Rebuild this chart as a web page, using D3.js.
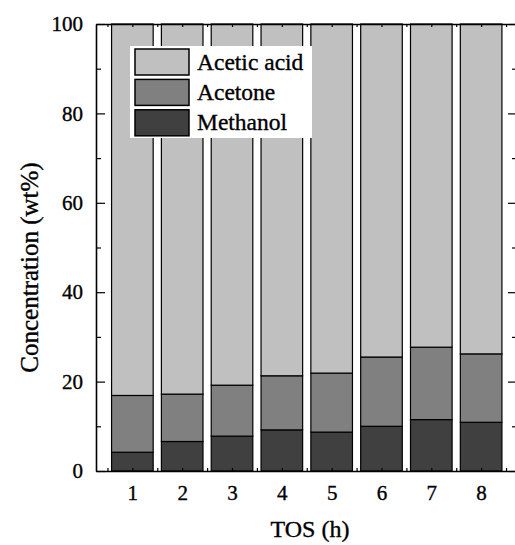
<!DOCTYPE html>
<html>
<head>
<meta charset="utf-8">
<script src="https://cdn.jsdelivr.net/npm/d3@7"></script>
<style>
  body { margin: 0; background: #fff; }
  svg text { font-family: "Liberation Serif", Tinos, "Times New Roman", Times, serif !important; fill: #000; stroke: #000; stroke-width: 0.35px; }
</style>
</head>
<body>
<div id="chart"></div>
<script>
// TOS (h)
var tos = [1, 2, 3, 4, 5, 6, 7, 8]
// wt%
var methanol = [4.2, 6.6, 7.8, 9.2, 8.7, 10.0, 11.5, 10.9]
var acetone = [12.7, 10.6, 11.4, 12.1, 13.2, 15.5, 16.2, 15.3]
var acetic = methanol.map(function (d, i) { return 100 - d - acetone[i] })
var seriesNames = ["Methanol", "Acetone", "Acetic acid"]
var seriesColors = ["#404040", "#808080", "#c0c0c0"]
var yTicks = [0, 20, 40, 60, 80, 100]

var serif = "'Liberation Serif', Tinos, 'Times New Roman', Times, serif"
var W = 515, H = 545
var margin = {top: 24, right: -1, bottom: 74, left: 96},
    width = W - margin.left - margin.right,
    height = H - margin.top - margin.bottom;

var rows = tos.map(function (t, i) {
    return {tos: t, "Methanol": methanol[i], "Acetone": acetone[i], "Acetic acid": acetic[i]}
})

var x = d3.scaleLinear().domain([0.27, 8.7]).range([0, width]);
var y = d3.scaleLinear().domain([0, 100]).range([height, 0]);
var color = d3.scaleOrdinal(seriesColors).domain(seriesNames);
var barW = 0.835 // in x units

var svg = d3.select("#chart").append("svg")
    .attr("width", W)
    .attr("height", H)
    .attr("font-family", serif)
    .append("g")
    .attr("transform", "translate(" + margin.left + "," + margin.top + ")");

var stacked = d3.stack().keys(seriesNames)(rows);

var layer = svg.selectAll(".layer")
    .data(stacked)
    .enter().append("g")
    .attr("class", "layer")
    .style("fill", function (d) { return color(d.key); });

layer.selectAll("rect")
    .data(function (d) { return d })
    .enter().append("rect")
    .attr("x", function (d) { return x(d.data.tos - barW / 2) })
    .attr("width", function (d) { return x(barW) - x(0) })
    .attr("y", function (d) { return y(d[1]) })
    .attr("height", function (d) { return y(d[0]) - y(d[1]) })
    .attr("stroke", "#000")
    .attr("stroke-width", 1.2);

// axes, ticks pointing inward
var halfTicks = d3.range(0.5, 8.75, 0.5)
var minorY = d3.range(10, 100, 20)

function styleAxis(g) {
    g.attr("font-family", serif);
    g.select(".domain").attr("stroke-width", 1.6);
    g.selectAll(".tick line").attr("stroke-width", 1.2);
}

svg.append("g")
    .attr("transform", "translate(0," + height + ")")
    .call(d3.axisBottom(x).tickValues(halfTicks).tickSizeInner(-3).tickSizeOuter(0).tickFormat(""))
    .call(styleAxis);

svg.append("g")
    .attr("transform", "translate(0," + height + ")")
    .call(d3.axisBottom(x).tickValues(tos).tickSize(0).tickPadding(14).tickFormat(d3.format("d")))
    .call(styleAxis)
    .call(function (g) { g.select(".domain").remove() })
    .selectAll("text").style("font-size", "21px");

svg.append("g")
    .call(d3.axisTop(x).tickValues(halfTicks).tickSizeInner(-3).tickSizeOuter(0).tickFormat(""))
    .call(styleAxis);

svg.append("g")
    .call(d3.axisLeft(y).tickValues(yTicks).tickSizeInner(-9).tickSizeOuter(0).tickPadding(13))
    .call(styleAxis)
    .selectAll("text").style("font-size", "21px");

svg.append("g")
    .call(d3.axisLeft(y).tickValues(minorY).tickSizeInner(-5).tickSizeOuter(0).tickFormat(""))
    .call(function (g) { g.select(".domain").remove() })
    .call(styleAxis);

svg.append("g")
    .attr("transform", "translate(" + width + ",0)")
    .call(d3.axisRight(y).tickValues(yTicks).tickSizeInner(-8).tickSizeOuter(0).tickFormat(""))
    .call(styleAxis);

svg.append("g")
    .attr("transform", "translate(" + width + ",0)")
    .call(d3.axisRight(y).tickValues(minorY).tickSizeInner(-4).tickSizeOuter(0).tickFormat(""))
    .call(function (g) { g.select(".domain").remove() })
    .call(styleAxis);

// axis titles
svg.append("text")
    .attr("x", 214)
    .attr("y", height + 66)
    .attr("text-anchor", "middle")
    .style("font-size", "24px")
    .text("TOS (h)");

svg.append("text")
    .attr("transform", "translate(" + (-58) + "," + (y(50) + 20) + ") rotate(-90)")
    .attr("text-anchor", "middle")
    .style("font-size", "25px")
    .text("Concentration (wt%)");

// legend
var legendOrder = ["Acetic acid", "Acetone", "Methanol"]
var legend = svg.append("g").attr("transform", "translate(34,22)");
legend.append("rect")
    .attr("width", 182)
    .attr("height", 92)
    .attr("fill", "#fff");

var item = legend.selectAll(".item")
    .data(legendOrder)
    .enter().append("g")
    .attr("class", "item")
    .attr("transform", function (d, i) { return "translate(5," + (3 + i * 30.4) + ")" });

item.append("rect")
    .attr("width", 54)
    .attr("height", 26)
    .attr("fill", function (d) { return color(d) })
    .attr("stroke", "#000")
    .attr("stroke-width", 1.5);

item.append("text")
    .attr("x", 62)
    .attr("y", 20.5)
    .style("font-size", "23.5px")
    .text(function (d) { return d });
</script>
</body>
</html>
